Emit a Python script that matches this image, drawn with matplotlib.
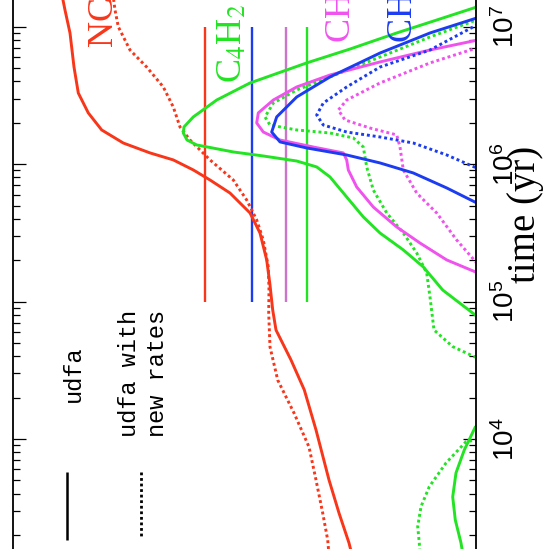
import numpy as np
import matplotlib
matplotlib.use('Agg')
import matplotlib.pyplot as plt
from matplotlib.ticker import FuncFormatter, NullFormatter, LogLocator

plt.rcParams['font.family'] = ['Liberation Sans', 'DejaVu Sans']
plt.rcParams['mathtext.fontset'] = 'custom'
plt.rcParams['mathtext.rm'] = 'Liberation Sans'
plt.rcParams['mathtext.it'] = 'Liberation Sans:italic'
plt.rcParams['mathtext.bf'] = 'Liberation Sans:bold'

# ---------------- data (log10 time [yr], log10 abundance) ----------------
nc_udfa_logt = [7.231, 7.122, 6.955, 6.707, 6.518, 6.373, 6.249, 6.154, 6.082, 6.031, 5.958, 5.885, 5.790,
                5.645, 5.499, 5.303, 5.121, 4.939, 4.793, 4.575, 4.357, 4.066, 3.702, 3.461, 3.243, 3.156]
nc_udfa_logx = [-6.49, -6.52, -6.57, -6.61, -6.653, -6.753, -6.887, -7.103, -7.37, -7.603, -7.803, -7.97, -8.17,
                -8.37, -8.47, -8.537, -8.57, -8.597, -8.63, -8.78, -8.913, -9.03, -9.16, -9.26, -9.36, -9.39]

nc_new_logt = [7.231, 7.122, 7.000, 6.831, 6.707, 6.562, 6.416, 6.271, 6.176, 6.031, 5.885, 5.739, 5.594,
               5.448, 5.252, 5.084, 4.917, 4.670, 4.429, 4.189, 3.942, 3.702, 3.461, 3.265, 3.156]
nc_new_logx = [-7.00, -7.02, -7.053, -7.17, -7.337, -7.503, -7.603, -7.67, -7.77, -7.97, -8.203, -8.337, -8.437,
               -8.503, -8.553, -8.56, -8.557, -8.57, -8.647, -8.81, -8.96, -9.03, -9.097, -9.147, -9.16]

c4h2_udfa_logt = [7.231, 7.144, 7.050, 6.955, 6.838, 6.737, 6.591, 6.467, 6.344, 6.271, 6.227, 6.176, 6.140,
                  6.089, 6.060, 6.023, 5.980, 5.907, 5.761, 5.616, 5.499, 5.376, 5.252, 5.084, 4.902, 4.575,
                  4.357, 4.175, 4.087, 3.920, 3.753, 3.578, 3.410, 3.243, 3.156]
c4h2_udfa_logx = [-11.01, -10.637, -10.24, -9.837, -9.37, -8.937, -8.37, -8.037, -7.803, -7.71, -7.703, -7.74,
                  -7.837, -8.203, -8.50, -8.837, -9.037, -9.17, -9.337, -9.503, -9.67, -9.903, -10.103, -10.297,
                  -10.623, -11.47, -11.87, -11.47, -10.623, -10.513, -10.43, -10.397, -10.423, -10.48, -10.50]

c4h2_new_logt = [7.231, 7.050, 6.926, 6.780, 6.635, 6.540, 6.445, 6.344, 6.285, 6.249, 6.227, 6.191, 6.125,
                 5.980, 5.812, 5.645, 5.499, 5.354, 5.208, 5.033, 4.793, 4.672, 4.599, 4.429, 4.211, 4.066,
                 3.980, 3.825, 3.653, 3.507, 3.362, 3.243, 3.156]
c4h2_new_logx = [-11.32, -10.637, -10.17, -9.67, -9.17, -8.837, -8.603, -8.52, -8.57, -8.837, -9.17, -9.403,
                 -9.503, -9.537, -9.603, -9.737, -9.903, -10.037, -10.137, -10.17, -10.21, -10.397, -10.613,
                 -11.27, -11.47, -11.27, -10.53, -10.33, -10.163, -10.08, -10.047, -10.063, -10.07]

ch3c4h_udfa_logt = [6.984, 6.904, 6.831, 6.744, 6.649, 6.562, 6.467, 6.373, 6.300, 6.234, 6.176, 6.125, 6.082,
                    6.031, 5.958, 5.834, 5.688, 5.543, 5.426, 5.303, 5.208, 5.084]
ch3c4h_udfa_logx = [-11.17, -10.65, -10.17, -9.67, -9.17, -8.837, -8.603, -8.453, -8.437, -8.503, -8.67, -9.003,
                    -9.303, -9.337, -9.353, -9.437, -9.603, -9.837, -10.07, -10.337, -10.65, -11.17]

ch3c4h_new_logt = [6.940, 6.846, 6.737, 6.591, 6.467, 6.394, 6.322, 6.263, 6.213, 6.125, 5.958, 5.790, 5.645,
                   5.448, 5.281, 5.012]
ch3c4h_new_logx = [-11.04, -10.637, -10.17, -9.67, -9.337, -9.253, -9.32, -9.57, -9.837, -9.87, -9.903, -10.037,
                   -10.237, -10.437, -10.637, -11.07]

ch3c6h_udfa_logt = [7.159, 7.064, 6.955, 6.809, 6.635, 6.489, 6.344, 6.234, 6.162, 6.118, 6.067, 6.009, 5.936,
                    5.827, 5.718, 5.521]
ch3c6h_udfa_logx = [-11.04, -10.637, -10.17, -9.67, -9.17, -8.837, -8.637, -8.587, -8.67, -8.937, -9.337, -9.67,
                    -10.003, -10.337, -10.637, -11.17]

ch3c6h_new_logt = [7.159, 7.013, 6.831, 6.707, 6.562, 6.445, 6.358, 6.285, 6.234, 6.198, 6.154, 6.067, 5.972,
                   5.776]
ch3c6h_new_logx = [-11.01, -10.637, -10.17, -9.67, -9.337, -9.103, -9.037, -9.103, -9.337, -9.67, -10.003,
                   -10.337, -10.637, -11.17]

# observed abundances, shown over 1e5 - 1e7 yr
obs_logx = [-7.92, -8.393, -8.727, -8.937]
obs_t_range = [1e5, 1e7]

time_ticks = [1e4, 1e5, 1e6, 1e7]

RED = '#f8361a'
GREEN = '#22e422'
BLUE = '#1c3cf2'
MAG = '#f052ee'
ORCHID = '#cc74cc'
obs_colors = [RED, BLUE, ORCHID, GREEN]

W, H = 544, 549
fig = plt.figure(figsize=(W / 100, H / 100), dpi=100)
ax = fig.add_axes([13 / W, 0, 463 / W, 1])
ax.set_xscale('log')
ax.set_yscale('log')
ax.set_xlim(1e-6, 10 ** -10.63)
ax.set_ylim(10 ** 3.199, 10 ** 7.195)

LW = 2.1
dot = (0, (1.0, 1.0))

def P(lt, lx):
    return 10 ** np.array(lx), 10 ** np.array(lt)

for lx, c in zip(obs_logx, obs_colors):
    ax.plot([10 ** lx, 10 ** lx], obs_t_range, color=c, lw=1.7, solid_capstyle='butt')

series = [
    (nc_udfa_logt, nc_udfa_logx, RED, '-'),
    (nc_new_logt, nc_new_logx, RED, dot),
    (c4h2_udfa_logt, c4h2_udfa_logx, GREEN, '-'),
    (c4h2_new_logt, c4h2_new_logx, GREEN, dot),
    (ch3c4h_udfa_logt, ch3c4h_udfa_logx, MAG, '-'),
    (ch3c4h_new_logt, ch3c4h_new_logx, MAG, dot),
    (ch3c6h_udfa_logt, ch3c6h_udfa_logx, BLUE, '-'),
    (ch3c6h_new_logt, ch3c6h_new_logx, BLUE, dot),
]
for lt, lx, c, ls in series:
    x, y = P(lt, lx)
    ax.plot(x, y, color=c, lw=LW, ls=ls, dash_capstyle='butt', solid_joinstyle='round')

# axes styling
for s in ['top', 'bottom']:
    ax.spines[s].set_visible(False)
for s in ['left', 'right']:
    ax.spines[s].set_linewidth(1.3)
ax.tick_params(axis='x', which='both', bottom=False, top=False, labelbottom=False, labeltop=False)
ax.yaxis.set_major_locator(LogLocator(base=10, numticks=20))
ax.yaxis.set_minor_locator(LogLocator(base=10, subs=np.arange(2, 10), numticks=20))
ax.yaxis.set_major_formatter(FuncFormatter(lambda v, p: r'$10^{%d}$' % round(np.log10(v))))
ax.yaxis.set_minor_formatter(NullFormatter())
ax.tick_params(axis='y', which='both', direction='in', left=True, right=True,
               labelleft=False, labelright=True, labelsize=20, pad=12, labelrotation=90)
ax.tick_params(axis='y', which='major', length=9.5, width=0.9)
ax.tick_params(axis='y', which='minor', length=5, width=0.9)
for t in ax.yaxis.get_major_ticks():
    t.label2.set_verticalalignment('center')
    t.label2.set_horizontalalignment('left')

def ftext(px, py, s, **kw):
    fig.text(px / W, 1 - py / H, s, rotation=90, rotation_mode='anchor',
             ha='left', va='baseline', **kw)

ftext(535, 283, 'time (yr)', fontsize=28, family='Liberation Serif')

serif = dict(family='Liberation Serif', math_fontfamily='stix', fontsize=26)
ftext(113, 48, r'NC$_4$N', color=RED, **serif)
ftext(241, 83, r'C$_4$H$_2$', color=GREEN, **serif)
ftext(350, 43, r'CH$_3$C$_4$H', color=MAG, **serif)
ftext(412, 43, r'CH$_3$C$_6$H', color=BLUE, **serif)

mono = dict(family='Liberation Mono', fontsize=17)
ftext(80, 402, 'udfa', **mono)
ftext(136, 437, 'udfa with', **mono)
ftext(164, 437, 'new rates', **mono)

# legend samples
ax.plot([(67 - 13) / 463] * 2, [1 - 472 / H, 1 - 540 / H], transform=ax.transAxes,
        color='black', lw=1.8, solid_capstyle='butt')
ax.plot([(141 - 13) / 463] * 2, [1 - 472 / H, 1 - 537 / H], transform=ax.transAxes,
        color='black', lw=2.0, ls=dot, dash_capstyle='butt')

fig.savefig('out.png', dpi=100)
